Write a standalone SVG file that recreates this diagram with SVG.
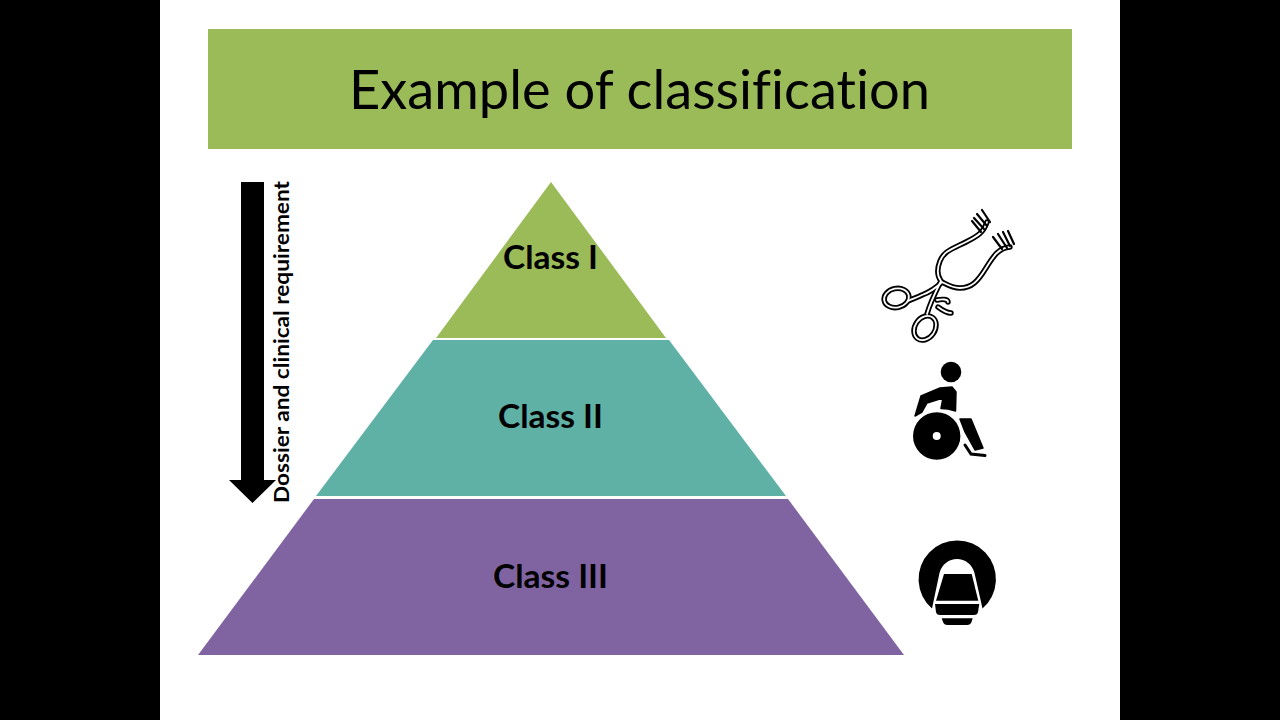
<svg xmlns="http://www.w3.org/2000/svg" width="1280" height="720" viewBox="0 0 1280 720">
<style>
text{font-family:"Lato","Open Sans","Liberation Sans",sans-serif;fill:#000;font-variant-ligatures:none}
.cls{font-size:33px;font-weight:700;text-anchor:middle}
.o{fill:none;stroke:#000;stroke-width:5.400;stroke-linecap:round;stroke-linejoin:round}
.i{fill:none;stroke:#fff;stroke-width:1.800;stroke-linecap:round}
.t{fill:none;stroke:#000;stroke-width:2.200;stroke-linecap:round}
.soft{stroke:#000;stroke-width:1.500;stroke-linejoin:round}
</style>
<defs>
<g id="instrument">
<path id="armA" d="M987 222C984 232 978 236 966 242C952 249 944 251 940 261C936 271 938 277 941 281C936 291 930 303 927 314"/>
<path id="armB" d="M1010 247C999 248 994 255 986 268C978 281 972 288 960 288C952 288 946 284 942 282C936 288 930 292 922 295C916 298 912 299 908 301"/>
<ellipse id="loopA" cx="896.500" cy="298" rx="12.500" ry="9.500" transform="rotate(-12 896.500 298)"/>
<ellipse id="loopB" cx="925" cy="328" rx="10" ry="13" transform="rotate(35 925 328)"/>
<path id="rack" d="M937 300C942 299 948 299 948 302M938 307C942 310 946 313 951 313"/>
</g>
</defs>
<rect width="1280" height="720" fill="#fff"/>
<rect x="0" y="0" width="160" height="720" fill="#000"/>
<rect x="1120" y="0" width="160" height="720" fill="#000"/>
<g id="title">
<rect x="208" y="29" width="864" height="120" fill="#9bbb59"/>
<text x="349" y="109" font-size="55" textLength="581" lengthAdjust="spacingAndGlyphs">Example of classification</text>
</g>
<g id="class-1">
<polygon points="551,182 666,338 436,338" fill="#9bbb59"/>
<text class="cls" x="550.500" y="269" textLength="95" lengthAdjust="spacingAndGlyphs">Class I</text>
</g>
<g id="class-2">
<polygon points="433,340 669,340 786,496 316,496" fill="#5fb0a5"/>
<text class="cls" x="550.500" y="428" textLength="105" lengthAdjust="spacingAndGlyphs">Class II</text>
</g>
<g id="class-3">
<polygon points="314,499 788,499 904,655 198,655" fill="#8064a2"/>
<text class="cls" x="550.500" y="588" textLength="115" lengthAdjust="spacingAndGlyphs">Class III</text>
</g>
<g id="requirement-arrow">
<polygon points="241,182 264,182 264,480 276,480 252.500,503 229,480 241,480" fill="#000"/>
<text transform="translate(289,503) rotate(-90)" font-size="21" font-weight="700" textLength="322" lengthAdjust="spacingAndGlyphs">Dossier and clinical requirement</text>
</g>
<g id="icon-instrument">
<use href="#instrument" class="o"/>
<use href="#instrument" class="i"/>
<path class="t" d="M972 221L981 232M974 218L984 229M977 214L987 226M982 210L990 222M993 237L1002 249M998 234L1007 248M1003 232L1010 246M1008 231L1014 244"/>
</g>
<g id="icon-wheelchair" fill="#000">
<circle cx="951" cy="372" r="10.300"/>
<path class="soft" d="M915 416L921 396L940 388L952 387L956 392L955.500 411Q948 408.500 941 408.500L943 398L927 403L922 412Z"/>
<path fill-rule="evenodd" d="M913 436a23.700 23.700 0 1 0 47.400 0a23.700 23.700 0 1 0 -47.400 0ZM932.700 436a4 4 0 1 1 8 0a4 4 0 1 1 -8 0Z"/>
<path class="soft" d="M960 419L971 419L983 448L975 450L965 432Z"/>
<path d="M965 445L971 454L985 455.500" fill="none" stroke="#000" stroke-width="3" stroke-linecap="round"/>
</g>
<g id="icon-scanner" fill="#000">
<path d="M932 608.500A38.700 38.700 0 1 1 982.500 608.500L974.500 573C972 564 965 559 957 559C949 559 942 564 939.500 573Z"/>
<polygon points="944,574 971.700,574 978.300,600.700 936,600.700"/>
<path d="M935 604H979.300L978 612Q977.500 615 974 615H940Q936.500 615 936 612Z"/>
<path d="M941.700 618.300H972.700L971.500 622Q970.500 625 967 625H947.500Q944 625 943 622Z"/>
</g>
</svg>
